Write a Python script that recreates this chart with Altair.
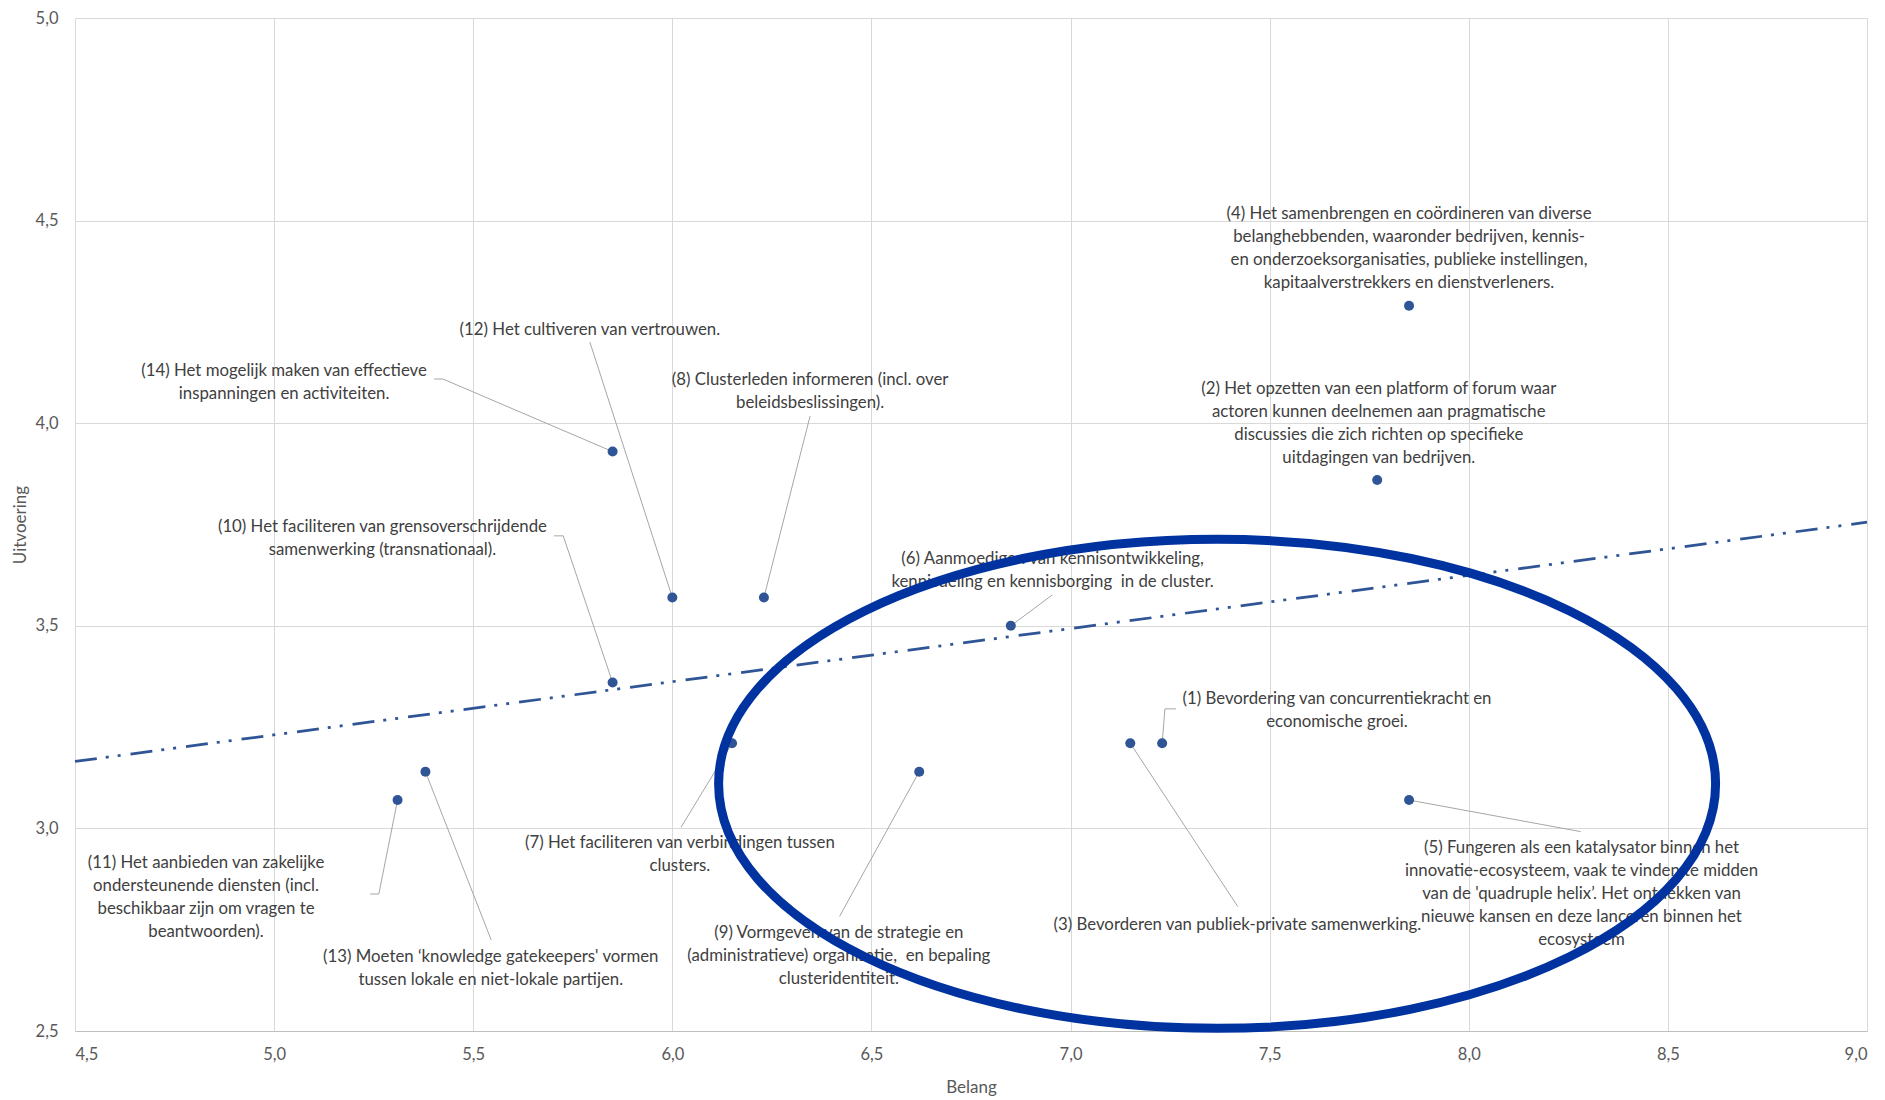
import altair as alt
import pandas as pd

# ---- data ----
item = [1, 2, 3, 4, 5, 6, 7, 8, 9, 10, 11, 12, 13, 14]
belang = [7.23, 7.77, 7.15, 7.85, 7.85, 6.85, 6.15, 6.23, 6.62, 5.85, 5.31, 6.00, 5.38, 5.85]
uitvoering = [3.21, 3.86, 3.21, 4.29, 3.07, 3.50, 3.21, 3.57, 3.14, 3.36, 3.07, 3.57, 3.14, 3.93]
labels = [
    "(1) Bevordering van concurrentiekracht en\neconomische groei.",
    "(2) Het opzetten van een platform of forum waar\nactoren kunnen deelnemen aan pragmatische\ndiscussies die zich richten op specifieke\nuitdagingen van bedrijven.",
    "(3) Bevorderen van publiek-private samenwerking.",
    "(4) Het samenbrengen en coördineren van diverse\nbelanghebbenden, waaronder bedrijven, kennis-\nen onderzoeksorganisaties, publieke instellingen,\nkapitaalverstrekkers en dienstverleners.",
    "(5) Fungeren als een katalysator binnen het\ninnovatie-ecosysteem, vaak te vinden te midden\nvan de 'quadruple helix’. Het ontdekken van\nnieuwe kansen en deze lanceren binnen het\necosysteem",
    "(6) Aanmoedigen van kennisontwikkeling,\nkennisdeling en kennisborging\u00a0 in de cluster.",
    "(7) Het faciliteren van verbindingen tussen\nclusters.",
    "(8) Clusterleden informeren (incl. over\nbeleidsbeslissingen).",
    "(9) Vormgeven van de strategie en\n(administratieve) organisatie,\u00a0 en bepaling\nclusteridentiteit.",
    "(10) Het faciliteren van grensoverschrijdende\nsamenwerking (transnationaal).",
    "(11) Het aanbieden van zakelijke\nondersteunende diensten (incl.\nbeschikbaar zijn om vragen te\nbeantwoorden).",
    "(12) Het cultiveren van vertrouwen.",
    "(13) Moeten ‘knowledge gatekeepers' vormen\ntussen lokale en niet-lokale partijen.",
    "(14) Het mogelijk maken van effectieve\ninspanningen en activiteiten.",
]
# label anchors (top-centre of each label block, in data units)
label_x = [7.669, 7.774, 7.419, 7.850, 8.283, 6.955, 6.019, 6.346, 6.418, 5.272, 4.829, 5.793, 5.544, 5.025]
label_y = [3.346, 4.112, 2.789, 4.543, 2.978, 3.692, 2.990, 4.134, 2.768, 3.772, 2.942, 4.257, 2.709, 4.157]
# leader lines: point -> elbow -> end (data units); None = no leader line
elbow_x = [7.237, None, 7.420, None, 8.281, 6.954, 6.022, 6.346, 6.420, 5.726, 5.263, 5.793, 5.545, 5.424]
elbow_y = [3.295, None, 2.807, None, 2.992, 3.576, 3.003, 4.018, 2.783, 3.722, 2.838, 4.200, 2.725, 4.109]
end_x = [7.265, None, 7.420, None, 8.281, 6.954, 6.022, 6.346, 6.420, 5.703, 5.241, 5.793, 5.545, 5.402]
end_y = [3.295, None, 2.807, None, 2.992, 3.576, 3.003, 4.018, 2.783, 3.722, 2.838, 4.200, 2.725, 4.109]

# highlighted ellipse (centre, data units)
ellipse_x = [7.368]
ellipse_y = [3.110]

x_ticks = [4.5, 5.0, 5.5, 6.0, 6.5, 7.0, 7.5, 8.0, 8.5, 9.0]
y_ticks = [2.5, 3.0, 3.5, 4.0, 4.5, 5.0]

df = pd.DataFrame({
    "item": item, "belang": belang, "uitvoering": uitvoering,
    "label": labels, "label_x": label_x, "label_y": label_y,
    "elbow_x": elbow_x, "elbow_y": elbow_y, "end_x": end_x, "end_y": end_y,
})
ell_df = pd.DataFrame({"belang": ellipse_x, "uitvoering": ellipse_y})

W, H = 1792, 1013
FONT = "Lato"
BLUE = "#2F5597"

comma = "replace(format(datum.value, '.1f'), '.', ',')"
xs = alt.Scale(domain=[4.5, 9.0], nice=False, zero=False)
ys = alt.Scale(domain=[2.5, 5.0], nice=False, zero=False)
x_axis = alt.Axis(values=x_ticks, labelExpr=comma, grid=True, ticks=False, domain=True,
                  domainColor="#BFBFBF", labelPadding=15, titlePadding=17)
y_axis = alt.Axis(values=y_ticks, labelExpr=comma, grid=True, ticks=False, domain=False,
                  labelPadding=17, titlePadding=6)


def X(field):
    return alt.X(f"{field}:Q", scale=xs, axis=x_axis, title="Belang")


def Y(field):
    return alt.Y(f"{field}:Q", scale=ys, axis=y_axis, title="Uitvoering")


base = alt.Chart(df)

trend = base.transform_regression(
    "belang", "uitvoering", extent=[4.5, 9.0]
).mark_line(color=BLUE, strokeWidth=2.75, strokeDash=[22, 9, 3, 9, 3, 10], strokeCap="butt").encode(
    x=X("belang"), y=Y("uitvoering")
)

leaders = base.transform_filter("isValid(datum.end_x)")
leader1 = leaders.mark_rule(color="#A6A6A6", strokeWidth=1).encode(
    x=X("belang"), y=Y("uitvoering"), x2="elbow_x:Q", y2="elbow_y:Q"
)
leader2 = leaders.mark_rule(color="#A6A6A6", strokeWidth=1).encode(
    x=X("elbow_x"), y=Y("elbow_y"), x2="end_x:Q", y2="end_y:Q"
)

points = base.mark_circle(size=100, color=BLUE, opacity=1).encode(
    x=X("belang"), y=Y("uitvoering")
)

texts = base.mark_text(
    align="center", baseline="line-top", lineHeight=23, lineBreak="\n",
    font=FONT, fontSize=16.8, color="#404040"
).encode(x=X("label_x"), y=Y("label_y"), text="label:N")

# ellipse drawn as a custom symbol (unit path, scaled by size)
rx_px, ry_px = 498.5, 244.5
k = ry_px / rx_px
c = 0.5523
ell_path = (
    f"M -1 0 C -1 {-k*c:.4f} {-c:.4f} {-k:.4f} 0 {-k:.4f} "
    f"C {c:.4f} {-k:.4f} 1 {-k*c:.4f} 1 0 "
    f"C 1 {k*c:.4f} {c:.4f} {k:.4f} 0 {k:.4f} "
    f"C {-c:.4f} {k:.4f} -1 {k*c:.4f} -1 0 Z"
)
ellipse = alt.Chart(ell_df).mark_point(
    shape=ell_path, size=(2 * rx_px) ** 2, filled=False, stroke="#0033A0",
    strokeWidth=9, opacity=1
).encode(x=X("belang"), y=Y("uitvoering"))

chart = alt.layer(trend, leader1, leader2, points, texts, ellipse).properties(
    width=W, height=H,
    autosize=alt.AutoSizeParams(type="none"),
    padding={"left": 75, "top": 18, "right": 18, "bottom": 69},
    background="white",
).configure_view(stroke="transparent").configure_axis(
    gridColor="#D9D9D9", gridWidth=1,
    labelFont=FONT, labelFontSize=16.5, labelColor="#595959",
    titleFont=FONT, titleFontSize=17, titleColor="#595959", titleFontWeight="normal",
)

chart.save("out.html", embed_options={"renderer": "svg", "actions": False})
